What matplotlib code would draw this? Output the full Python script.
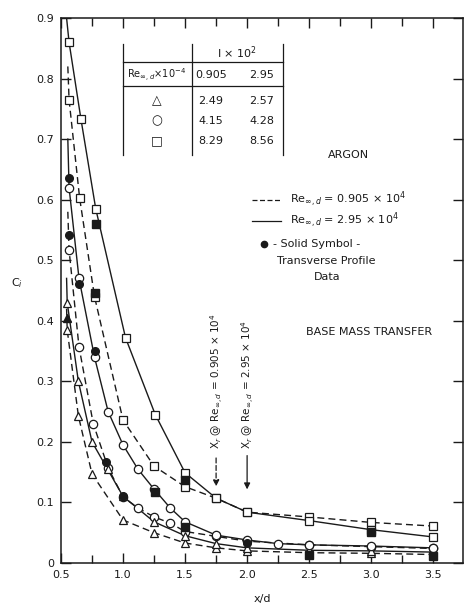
"""Base mass transfer in argon: C_i against x/d, two Reynolds numbers."""

import matplotlib
matplotlib.use("Agg")
import matplotlib.pyplot as plt
from matplotlib.ticker import FixedLocator, MultipleLocator

plt.rcParams.update({
    "font.family": "DejaVu Sans",
    "font.size": 8,
    "axes.linewidth": 1.1,
    "xtick.direction": "in",
    "ytick.direction": "in",
    "xtick.top": True,
    "ytick.right": True,
    "mathtext.fontset": "dejavusans",
})

INK = "#1a1a1a"

# ---------------------------------------------------------------------------
# Data
# ---------------------------------------------------------------------------

# Re = 0.905e4 (dashed curves)
tri_d_x = [0.55, 0.64, 0.75, 1.0, 1.25, 1.5, 1.75, 2.0, 2.5, 3.0, 3.5]
tri_d_y = [0.385, 0.243, 0.147, 0.071, 0.05, 0.033, 0.025, 0.02, 0.017, 0.016, 0.014]
cir_d_x = [0.565, 0.645, 0.76, 0.88, 1.0, 1.12, 1.25, 1.38, 1.5, 1.75, 2.0, 2.5, 3.0, 3.5]
cir_d_y = [0.517, 0.357, 0.23, 0.157, 0.109, 0.091, 0.076, 0.066, 0.052, 0.044, 0.036,
           0.03, 0.027, 0.024]
sq_d_x = [0.565, 0.65, 0.77, 1.0, 1.25, 1.5, 1.75, 2.0, 2.5, 3.0, 3.5]
sq_d_y = [0.765, 0.603, 0.44, 0.236, 0.16, 0.126, 0.107, 0.084, 0.076, 0.067, 0.061]

# Re = 2.95e4 (solid curves)
tri_s_x = [0.55, 0.64, 0.75, 0.875, 1.0, 1.25, 1.5, 1.75, 2.0, 2.5, 3.0, 3.5]
tri_s_y = [0.43, 0.30, 0.20, 0.155, 0.11, 0.068, 0.045, 0.032, 0.025, 0.021, 0.02, 0.018]
cir_s_x = [0.565, 0.645, 0.77, 0.88, 1.0, 1.12, 1.25, 1.38, 1.5, 1.75, 2.0, 2.25, 2.5,
           3.0, 3.5]
cir_s_y = [0.62, 0.47, 0.34, 0.25, 0.195, 0.155, 0.122, 0.091, 0.068, 0.046, 0.038,
           0.032, 0.03, 0.028, 0.025]
sq_s_x = [0.565, 0.66, 0.78, 1.02, 1.26, 1.5, 1.75, 2.0, 2.5, 3.0, 3.5]
sq_s_y = [0.86, 0.734, 0.585, 0.372, 0.245, 0.149, 0.107, 0.084, 0.07, 0.055, 0.043]

# where the curves climb towards the wall at x/d = 0.5
lead_x = {"sq_s": 0.545, "sq_d": 0.555, "cir_s": 0.555, "cir_d": 0.555,
          "tri_s": 0.545, "tri_d": 0.545}
lead_y = {"sq_s": 0.90, "sq_d": 0.82, "cir_s": 0.70, "cir_d": 0.58,
          "tri_s": 0.47, "tri_d": 0.42}

# solid symbols: transverse profile data
fsq_x = [0.78, 0.77, 1.26, 1.5, 1.5, 3.0, 2.5, 3.5]
fsq_y = [0.559, 0.446, 0.118, 0.137, 0.06, 0.052, 0.013, 0.012]
fcir_x = [0.565, 0.565, 0.645, 0.77, 0.86, 1.0, 2.0]
fcir_y = [0.635, 0.542, 0.46, 0.35, 0.167, 0.11, 0.033]
ftri_x = [0.55]
ftri_y = [0.405]

# table of intensities
tab_species = ["\u25b3", "\u25cb", "\u25a1"]
tab_i_low = ["2.49", "4.15", "8.29"]
tab_i_high = ["2.57", "4.28", "8.56"]

x_ticks = [0.5, 1.0, 1.5, 2.0, 2.5, 3.0, 3.5]
x_labels = ["0.5", "1.0", "1.5", "2.0", "2.5", "3.0", "3.5"]
y_ticks = [0, 0.1, 0.2, 0.3, 0.4, 0.5, 0.6, 0.7, 0.8, 0.9]
y_labels = ["0", "0.1", "0.2", "0.3", "0.4", "0.5", "0.6", "0.7", "0.8", "0.9"]

# ---------------------------------------------------------------------------
# Figure
# ---------------------------------------------------------------------------

W, H = 468, 606
fig = plt.figure(figsize=(W / 100, H / 100), dpi=100)
ax = fig.add_axes([61 / W, 1 - 563 / H, (463 - 61) / W, (563 - 18) / H])

curves = [
    ("tri_d", tri_d_x, tri_d_y, "^", (0, (5, 3))),
    ("cir_d", cir_d_x, cir_d_y, "o", (0, (5, 3))),
    ("sq_d", sq_d_x, sq_d_y, "s", (0, (5, 3))),
    ("tri_s", tri_s_x, tri_s_y, "^", "-"),
    ("cir_s", cir_s_x, cir_s_y, "o", "-"),
    ("sq_s", sq_s_x, sq_s_y, "s", "-"),
]
for key, xs, ys, mk, ls in curves:
    ax.plot([lead_x[key]] + xs, [lead_y[key]] + ys, color=INK, lw=1.0, ls=ls,
            zorder=2)
    ax.plot(xs, ys, ls="none", marker=mk, ms=6, mfc="white", mec=INK, mew=0.9,
            zorder=3)

for xs, ys, mk in [(fsq_x, fsq_y, "s"), (fcir_x, fcir_y, "o"), (ftri_x, ftri_y, "^")]:
    ax.plot(xs, ys, ls="none", marker=mk, ms=5.5, mfc=INK, mec=INK, zorder=4)

ax.set_xlim(0.5, 3.74)
ax.set_ylim(0, 0.9)
ax.xaxis.set_major_locator(FixedLocator(x_ticks))
ax.set_xticklabels(x_labels)
ax.xaxis.set_minor_locator(MultipleLocator(0.25))
ax.yaxis.set_major_locator(FixedLocator(y_ticks))
ax.set_yticklabels(y_labels)
ax.tick_params(which="both", colors=INK, labelcolor=INK, width=1.0)
ax.tick_params(which="major", length=7, pad=5)
ax.tick_params(which="minor", length=6)
for sp in ax.spines.values():
    sp.set_color(INK)

ax.set_xlabel("x/d", color=INK, labelpad=10)
ax.set_ylabel("C$_i$", color=INK, rotation=0, labelpad=14)
ax.yaxis.set_label_coords(-0.11, 0.5)

# reattachment markers
ax.annotate("", xy=(1.75, 0.122), xytext=(1.75, 0.178),
            arrowprops=dict(arrowstyle="-|>", color=INK, lw=0.9, ls=(0, (4, 2)),
                            mutation_scale=9))
ax.annotate("", xy=(2.0, 0.117), xytext=(2.0, 0.182),
            arrowprops=dict(arrowstyle="-|>", color=INK, lw=0.9, mutation_scale=9))
ax.text(1.75, 0.188, "X$_r$ @ Re$_{\\infty,d}$ = 0.905 \u00d7 10$^4$", rotation=90,
        ha="center", va="bottom", color=INK, fontsize=7.5)
ax.text(2.0, 0.188, "X$_r$ @ Re$_{\\infty,d}$ = 2.95 \u00d7 10$^4$", rotation=90,
        ha="center", va="bottom", color=INK, fontsize=7.5)

# ---------------------------------------------------------------------------
# Table, legend and notes in pixel coordinates
# ---------------------------------------------------------------------------

ov = fig.add_axes([0, 0, 1, 1], facecolor="none")
ov.set_xlim(0, W)
ov.set_ylim(H, 0)
ov.axis("off")

lk = dict(color=INK, lw=0.9)
for xv in (123, 192, 283):
    ov.plot([xv, xv], [44, 155], **lk)
ov.plot([123, 283], [62, 62], **lk)
ov.plot([123, 283], [86, 86], **lk)
ov.text(237, 53, "I \u00d7 10$^2$", ha="center", va="center", color=INK, fontsize=8)
ov.text(157, 75, "Re$_{\\infty,d}$\u00d710$^{-4}$", ha="center", va="center",
        color=INK, fontsize=7)
ov.text(211, 75, "0.905", ha="center", va="center", color=INK, fontsize=8)
ov.text(262, 75, "2.95", ha="center", va="center", color=INK, fontsize=8)
for i, (sym, lo, hi) in enumerate(zip(tab_species, tab_i_low, tab_i_high)):
    yy = 101 + 20 * i
    ov.text(157, yy, sym, ha="center", va="center", color=INK, fontsize=9)
    ov.text(211, yy, lo, ha="center", va="center", color=INK, fontsize=8)
    ov.text(262, yy, hi, ha="center", va="center", color=INK, fontsize=8)

ov.text(348, 155, "ARGON", ha="center", va="center", color=INK, fontsize=8)
ov.plot([252, 281], [200, 200], color=INK, lw=0.9, ls=(0, (4, 2)))
ov.plot([252, 281], [221, 221], color=INK, lw=0.9)
ov.text(290, 199, "Re$_{\\infty,d}$ = 0.905 \u00d7 10$^4$", ha="left", va="center",
        color=INK, fontsize=8)
ov.text(290, 220, "Re$_{\\infty,d}$ = 2.95 \u00d7 10$^4$", ha="left", va="center",
        color=INK, fontsize=8)
ov.plot([264], [244], marker="o", ms=4.5, color=INK)
ov.text(273, 244, "- Solid Symbol -", ha="left", va="center", color=INK, fontsize=8)
ov.text(326, 261, "Transverse Profile", ha="center", va="center", color=INK,
        fontsize=8)
ov.text(327, 277, "Data", ha="center", va="center", color=INK, fontsize=8)
ov.text(369, 332, "BASE MASS TRANSFER", ha="center", va="center", color=INK,
        fontsize=8)

fig.savefig("out.png", dpi=100, facecolor="white")
